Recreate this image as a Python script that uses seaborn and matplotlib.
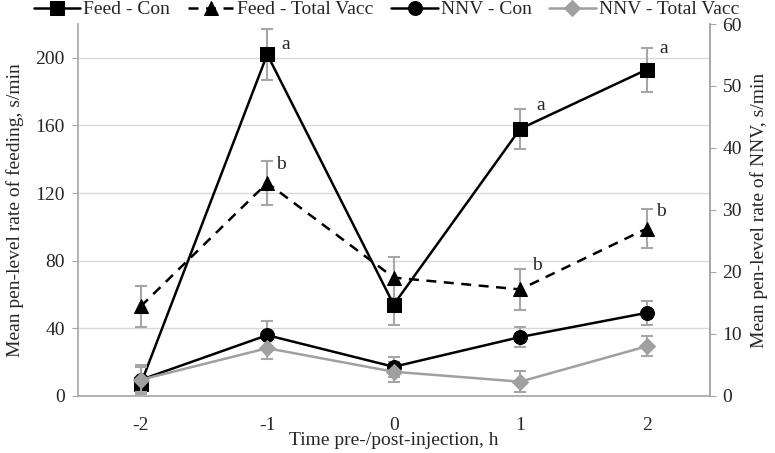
import numpy as np
import pandas as pd
import seaborn as sns
import matplotlib.pyplot as plt

# data
hours = [-2, -1, 0, 1, 2]
feed_con = [7, 202, 54, 158, 193]
feed_con_se = [11, 15, 12, 12, 13]
feed_vacc = [53, 126, 70, 63, 99]
feed_vacc_se = [12, 13, 12, 12, 11.5]
nnv_con = [2.6, 9.8, 4.7, 9.5, 13.4]
nnv_con_se = [2.0, 2.3, 1.6, 1.6, 1.9]
nnv_vacc = [2.6, 7.7, 3.9, 2.3, 8.0]
nnv_vacc_se = [2.3, 1.8, 1.6, 1.7, 1.6]
# significance letters: hour, series value, letter
letters = [(-1, 202, 'a'), (1, 158, 'a'), (2, 193, 'a'),
           (-1, 126, 'b'), (1, 63, 'b'), (2, 99, 'b')]
letter_offsets = [(13, 7), (15, 17), (12, 15), (10, 13), (12, 17), (10, 12)]

sns.set_style('white')
plt.rcParams['font.family'] = ['Liberation Serif', 'DejaVu Serif']
plt.rcParams['font.size'] = 14

fig = plt.figure(figsize=(7.75, 4.53), dpi=100)
ax = fig.add_axes([0.1, 0.126, 0.816, 0.821])
ax2 = ax.twinx()

df = pd.DataFrame({'hour': hours, 'feed_con': feed_con, 'feed_vacc': feed_vacc,
                   'nnv_con': nnv_con, 'nnv_vacc': nnv_vacc})

ebar = dict(fmt='none', ecolor='#a6a6a6', elinewidth=1.5, capsize=4, capthick=1.5)
ax.errorbar(hours, feed_con, yerr=feed_con_se, zorder=2, **ebar)
ax.errorbar(hours, feed_vacc, yerr=feed_vacc_se, zorder=2, **ebar)
ax2.errorbar(hours, nnv_con, yerr=nnv_con_se, zorder=2, **ebar)
ax2.errorbar(hours, nnv_vacc, yerr=nnv_vacc_se, zorder=2, **ebar)

sns.lineplot(data=df, x='hour', y='feed_con', ax=ax, color='black', lw=1.8,
             marker='s', markersize=10, markeredgecolor='black', label='Feed - Con', zorder=3, legend=False)
sns.lineplot(data=df, x='hour', y='feed_vacc', ax=ax, color='black', lw=1.8, linestyle=(0, (4, 3)),
             marker='^', markersize=10, markeredgecolor='black', label='Feed - Total Vacc', zorder=3, legend=False)
sns.lineplot(data=df, x='hour', y='nnv_con', ax=ax2, color='black', lw=1.8,
             marker='o', markersize=10, markeredgecolor='black', label='NNV - Con', zorder=3, legend=False)
sns.lineplot(data=df, x='hour', y='nnv_vacc', ax=ax2, color='#a0a0a0', lw=1.8,
             marker='D', markersize=8, markeredgecolor='#a0a0a0', label='NNV - Total Vacc', zorder=3, legend=False)

for (x, y, s), off in zip(letters, letter_offsets):
    ax.annotate(s, (x, y), xytext=off, textcoords='offset points',
                ha='center', va='center', fontsize=14)

ax.set_xlim(-2.5, 2.5)
ax.set_ylim(0, 220)
ax2.set_ylim(0, 60)
ax.set_xticks(hours)
ax.set_xticklabels([str(h) for h in hours])
ax.set_xticks(np.arange(-2.5, 3, 1), minor=True)
ax.tick_params(axis='x', which='major', length=0, pad=15)
ax.tick_params(axis='x', which='minor', length=5, color='#a6a6a6', direction='out')
ax.set_yticks(range(0, 201, 40))
ax.tick_params(axis='y', length=4, color='#a6a6a6', direction='out', pad=5)
ax2.set_yticks(range(0, 61, 10))
ax2.tick_params(axis='y', length=4, color='#a6a6a6', direction='out', pad=5)
ax.yaxis.grid(True, color='#d9d9d9', lw=1)
ax.set_axisbelow(True)

for a in (ax, ax2):
    a.spines['top'].set_visible(False)
    for sp in ('left', 'right', 'bottom'):
        a.spines[sp].set_color('#a6a6a6')
        a.spines[sp].set_linewidth(1.2)
ax2.spines['left'].set_visible(False)
ax2.spines['bottom'].set_visible(False)

ax.set_xlabel('Time pre-/post-injection, h', fontsize=14, labelpad=-1)
ax.set_ylabel('Mean pen-level rate of feeding, s/min', fontsize=14, labelpad=8)
ax2.set_ylabel('Mean pen-level rate of NNV, s/min', fontsize=14, labelpad=6)

h1, l1 = ax.get_legend_handles_labels()
h2, l2 = ax2.get_legend_handles_labels()
fig.legend(h1 + h2, l1 + l2, loc='upper left', bbox_to_anchor=(0.021, 1.037), ncol=4,
           frameon=False, fontsize=14, handlelength=2.4, handletextpad=0.15, columnspacing=0.9)

fig.savefig('out.png', dpi=100)
